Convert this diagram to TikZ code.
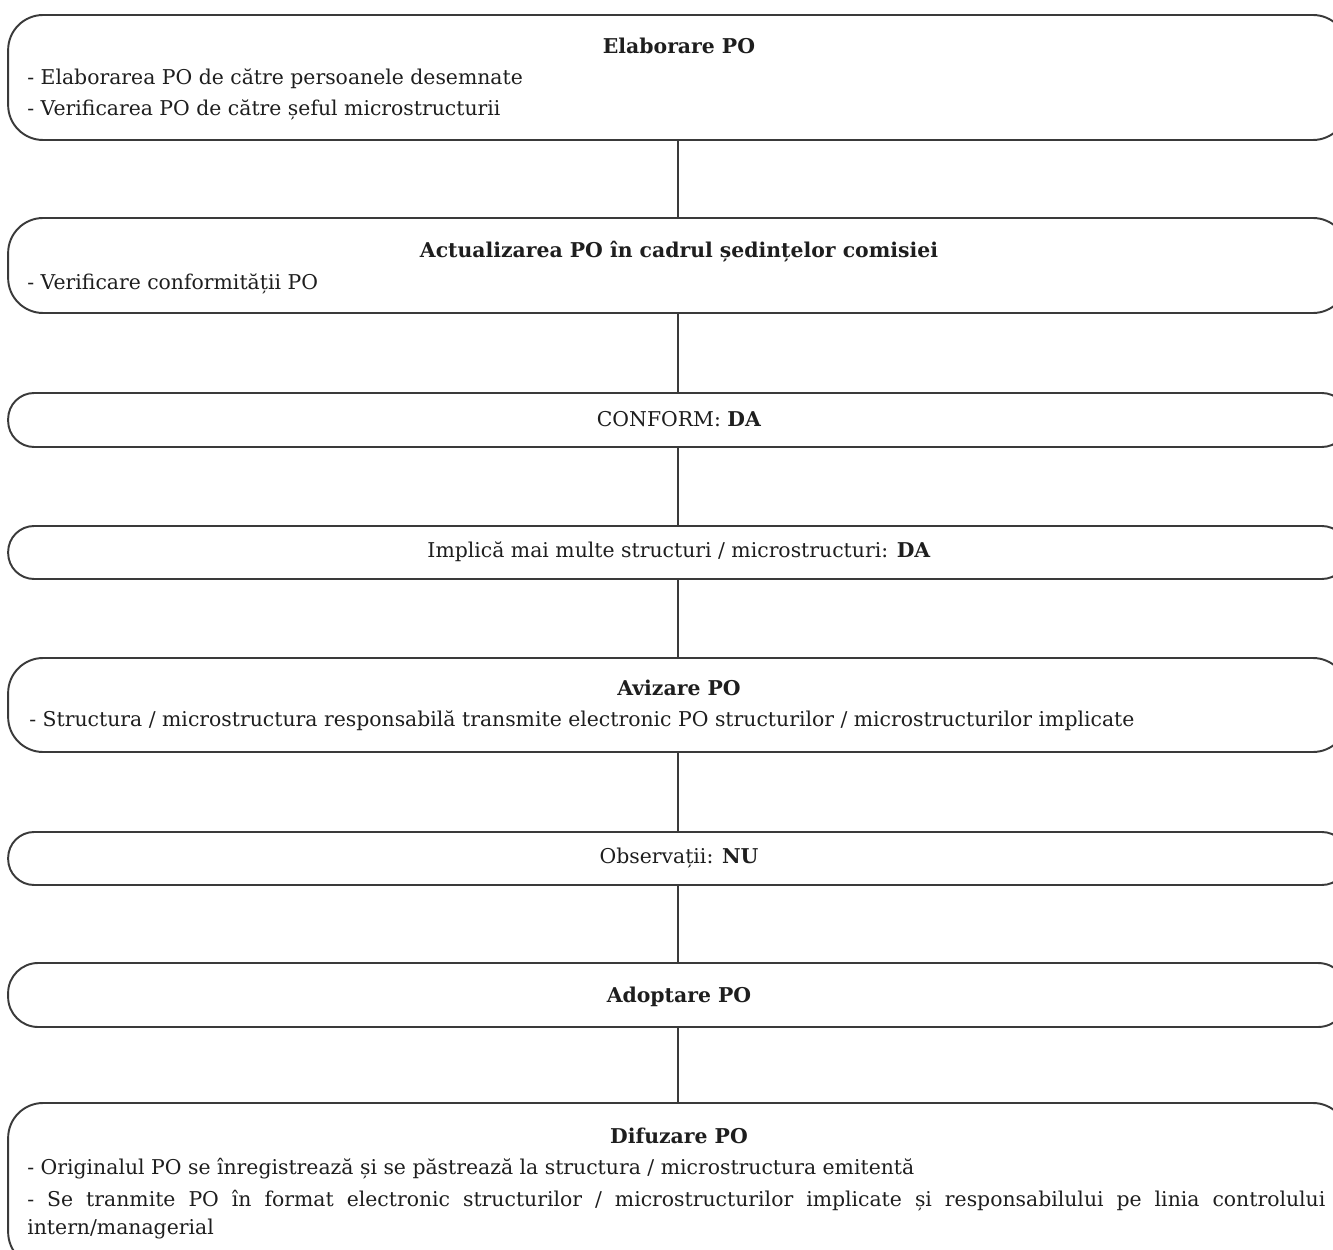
\documentclass[tikz,border=0pt]{standalone}
\usepackage{fontspec}
\setmainfont{DejaVu Serif}
\usepackage{xcolor}
\usepackage{tikz}
\usetikzlibrary{calc}

\definecolor{contur}{HTML}{3A3A3A}
\definecolor{scris}{HTML}{1E1E1E}

\tikzset{
    pasbox/.style = {draw = contur, line width = 1.1pt, minimum width = 26.8cm, inner sep = 0pt},
    titlu/.style = {text = scris, font = \fontsize{11.6}{14}\selectfont\bfseries, inner sep = 0pt, anchor = mid},
    simplu/.style = {text = scris, font = \fontsize{11.6}{14}\selectfont, inner sep = 0pt, anchor = mid},
    rand/.style = {text = scris, font = \fontsize{11.6}{14}\selectfont, inner sep = 0pt, anchor = mid west}
}

\begin{document}
\begin{tikzpicture}[x = 0.02cm, y = -0.02cm]
    \useasboundingbox [fill = white] (0, 0) rectangle (1333, 1250);
    % casetele procedurii
    \foreach \n\c\h\r in {1/77.5/125/0.7cm, 2/265.5/95/0.7cm, 3/420/54/0.52cm, 4/552.5/53/0.52cm,
                          5/705/94/0.7cm, 6/858.5/53/0.52cm, 7/995/64/0.6cm, 8/1185/164/0.7cm} {
        \node [pasbox, minimum height = \h*0.02cm, rounded corners = \r] (b\n) at (678, \c) {};
    }
    \foreach \i\j in {1/2, 2/3, 3/4, 4/5, 5/6, 6/7, 7/8} {
        \draw [draw = contur, line width = 1.1pt] (b\i) -- (b\j);
    }
    % textele
    \node [titlu] (t1) at (679, 49) {Elaborare PO};
    \node [rand] (l11) at (27, 80) {- Elaborarea PO de către persoanele desemnate};
    \node [rand] (l12) at (27, 111) {- Verificarea PO de către șeful microstructurii};
    \node [titlu] (t2) at (679, 253) {Actualizarea PO în cadrul ședințelor comisiei};
    \node [rand] (l21) at (27, 285) {- Verificare conformității PO};
    \node [simplu] (t3) at (679, 422) {CONFORM: \textbf{DA}};
    \node [simplu] (t4) at (679, 553) {Implică mai multe structuri / microstructuri: \textbf{DA}};
    \node [titlu] (t5) at (679, 691) {Avizare PO};
    \node [rand] (l51) at (29, 722) {- Structura / microstructura responsabilă transmite electronic PO structurilor / microstructurilor implicate};
    \node [simplu] (t6) at (679, 859) {Observații: \textbf{NU}};
    \node [titlu] (t7) at (679, 998) {Adoptare PO};
    \node [titlu] (t8) at (679, 1139) {Difuzare PO};
    \node [rand] (l81) at (27, 1170) {- Originalul PO se înregistrează și se păstrează la structura / microstructura emitentă};
    \node [rand, anchor = north west, text width = 1298*0.02cm, align = justify,
           font = \fontsize{11.6}{15.6}\selectfont] (l82) at (27, 1190)
        {- Se tranmite PO în format electronic structurilor / microstructurilor implicate și responsabilului pe linia controlului\linebreak intern/managerial};
\end{tikzpicture}
\end{document}
